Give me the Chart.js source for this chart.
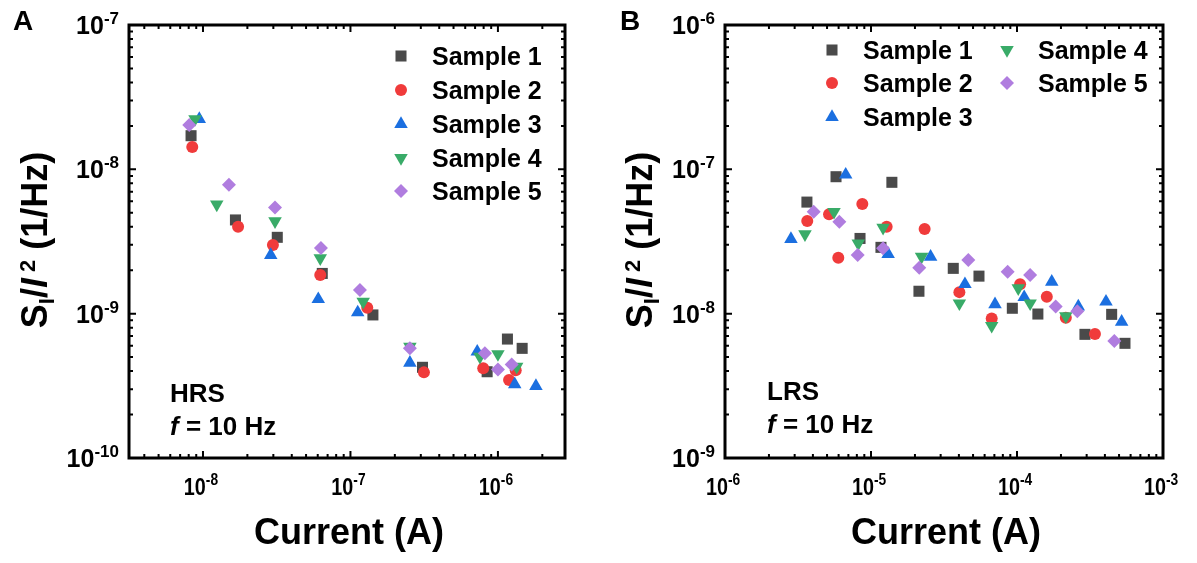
<!DOCTYPE html>
<html>
<head>
<meta charset="utf-8">
<script src="https://cdn.jsdelivr.net/npm/chart.js@4/dist/chart.umd.min.js"></script>
<style>
  html, body { margin: 0; padding: 0; background: #fff; }
  #wrap { position: relative; width: 1197px; height: 563px; overflow: hidden; }
  canvas { position: absolute; top: 0; }
  #chartA { left: 0; }
  #chartB { left: 600px; }
</style>
</head>
<body>
<div id="wrap">
  <canvas id="chartA" width="600" height="563"></canvas>
  <canvas id="chartB" width="597" height="563"></canvas>
</div>
<script>
// series names, marker styles
const sampleNames = ['Sample 1', 'Sample 2', 'Sample 3', 'Sample 4', 'Sample 5'];
const sampleColors = ['#4a4a4a', '#f03b3b', '#1b6fe0', '#39ab68', '#b07ddf'];
const sampleStyles = ['rect', 'circle', 'triangle', 'triangle', 'rectRot'];
const sampleRotation = [0, 0, 0, 180, 0];
const sampleRadius = [7.8, 6, 7.8, 7.8, 7];

// tick exponents (labels 10^n)
const xTicksA = [-8, -7, -6];
const yTicksA = [-10, -9, -8, -7];
const xTicksB = [-6, -5, -4, -3];
const yTicksB = [-9, -8, -7, -6];

// HRS: [current (A), S_I/I^2 (1/Hz)]
const hrsSample1 = [[8.3e-9, 1.71e-8], [1.66e-8, 4.46e-9], [3.19e-8, 3.38e-9], [6.44e-8, 1.90e-9], [1.42e-7, 9.8e-10],
  [3.08e-7, 4.25e-10], [8.45e-7, 3.96e-10], [1.16e-6, 6.67e-10], [1.46e-6, 5.75e-10]];
const hrsSample2 = [[8.46e-9, 1.43e-8], [1.73e-8, 4.0e-9], [2.98e-8, 2.99e-9], [6.24e-8, 1.85e-9], [1.30e-7, 1.10e-9],
  [3.15e-7, 3.92e-10], [7.95e-7, 4.18e-10], [1.19e-6, 3.47e-10], [1.32e-6, 4.06e-10]];
const hrsSample3 = [[9.44e-9, 2.23e-8], [2.88e-8, 2.55e-9], [6.05e-8, 1.26e-9], [1.12e-7, 1.02e-9], [2.53e-7, 4.57e-10],
  [7.24e-7, 5.45e-10], [1.30e-6, 3.24e-10], [1.81e-6, 3.15e-10]];
const hrsSample4 = [[8.83e-9, 2.23e-8], [1.24e-8, 5.72e-9], [3.08e-8, 4.38e-9], [6.24e-8, 2.42e-9], [1.22e-7, 1.21e-9],
  [2.53e-7, 5.9e-10], [7.55e-7, 5.03e-10], [1.0e-6, 5.25e-10], [1.34e-6, 4.29e-10]];
const hrsSample5 = [[8.07e-9, 2.03e-8], [1.50e-8, 7.82e-9], [3.08e-8, 5.45e-9], [6.31e-8, 2.85e-9], [1.16e-7, 1.46e-9],
  [2.53e-7, 5.75e-10], [8.16e-7, 5.31e-10], [1.0e-6, 4.11e-10], [1.24e-6, 4.45e-10]];

// LRS
const lrsSample1 = [[3.64e-6, 5.93e-8], [5.76e-6, 8.89e-8], [8.41e-6, 3.32e-8], [1.17e-5, 2.88e-8], [1.39e-5, 8.13e-8],
  [2.13e-5, 1.43e-8], [3.66e-5, 2.06e-8], [5.49e-5, 1.82e-8], [9.29e-5, 1.09e-8], [1.39e-4, 9.94e-9],
  [2.92e-4, 7.19e-9], [4.45e-4, 9.89e-9], [5.49e-4, 6.23e-9]];
const lrsSample2 = [[3.66e-6, 4.38e-8], [5.16e-6, 4.88e-8], [5.97e-6, 2.44e-8], [8.72e-6, 5.75e-8], [1.28e-5, 4.0e-8],
  [2.33e-5, 3.86e-8], [4.03e-5, 1.41e-8], [6.71e-5, 9.27e-9], [1.05e-4, 1.60e-8], [1.60e-4, 1.31e-8],
  [2.16e-4, 9.37e-9], [3.42e-4, 7.22e-9]];
const lrsSample3 = [[2.83e-6, 3.29e-8], [6.71e-6, 9.18e-8], [1.31e-5, 2.59e-8], [2.56e-5, 2.48e-8], [4.40e-5, 1.60e-8],
  [7.07e-5, 1.16e-8], [1.12e-4, 1.30e-8], [1.73e-4, 1.66e-8], [2.63e-4, 1.12e-8], [4.07e-4, 1.21e-8],
  [5.21e-4, 8.79e-9]];
const lrsSample4 = [[3.53e-6, 3.55e-8], [5.58e-6, 5.08e-8], [8.18e-6, 3.07e-8], [1.21e-5, 3.94e-8], [2.22e-5, 2.48e-8],
  [4.03e-5, 1.18e-8], [6.71e-5, 8.24e-9], [1.02e-4, 1.50e-8], [1.23e-4, 1.18e-8], [2.16e-4, 9.62e-9]];
const lrsSample5 = [[4.05e-6, 5.08e-8], [6.07e-6, 4.33e-8], [8.11e-6, 2.55e-8], [1.21e-5, 2.84e-8], [2.14e-5, 2.08e-8],
  [4.64e-5, 2.35e-8], [8.63e-5, 1.95e-8], [1.23e-4, 1.85e-8], [1.84e-4, 1.12e-8], [2.59e-4, 1.04e-8],
  [4.64e-4, 6.46e-9]];

const FONT = '"Liberation Sans", Arial, Helvetica, sans-serif';

function makeDatasets(series) {
    return series.map((pts, i) => ({
        label: sampleNames[i],
        data: pts.map(p => ({ x: p[0], y: p[1] })),
        pointStyle: sampleStyles[i],
        pointRotation: sampleRotation[i],
        pointRadius: sampleRadius[i],
        pointBackgroundColor: sampleColors[i],
        pointBorderColor: sampleColors[i],
        pointBorderWidth: 0,
        showLine: false,
        order: 5 - i   // later samples drawn on top
    }));
}

function font(size, style) {
    return (style || 'bold') + ' ' + size + 'px ' + FONT;
}

// "10" with a raised exponent
function drawPow(ctx, x, y, exp, baseSize, expSize, rise, align, squeeze) {
    squeeze = squeeze || 1;
    ctx.font = font(baseSize);
    const wb = ctx.measureText('10').width;
    ctx.font = font(expSize);
    const we = ctx.measureText(String(exp)).width;
    const total = (wb + we) * squeeze;
    let start = x;
    if (align === 'right') start = x - total;
    if (align === 'center') start = x - total / 2;
    ctx.save();
    ctx.translate(start, y);
    ctx.scale(squeeze, 1);
    ctx.textAlign = 'left';
    ctx.textBaseline = 'alphabetic';
    ctx.font = font(baseSize);
    ctx.fillText('10', 0, 0);
    ctx.font = font(expSize);
    ctx.fillText(String(exp), wb, -rise);
    ctx.restore();
}

function drawMarker(ctx, i, x, y) {
    ctx.fillStyle = sampleColors[i];
    ctx.strokeStyle = sampleColors[i];
    if (Chart.helpers && Chart.helpers.drawPoint) {
        Chart.helpers.drawPoint(ctx, {
            pointStyle: sampleStyles[i], rotation: sampleRotation[i],
            radius: sampleRadius[i], borderWidth: 0
        }, x, y);
    } else {
        ctx.beginPath();
        ctx.arc(x, y, sampleRadius[i], 0, Math.PI * 2);
        ctx.fill();
    }
}

const panelDecor = {
    id: 'panelDecor',
    afterDraw(chart, args, o) {
        const ctx = chart.ctx;
        const ca = chart.chartArea;
        const xs = chart.scales.x, ys = chart.scales.y;
        ctx.save();
        ctx.fillStyle = '#000';
        ctx.strokeStyle = '#000';

        // minor + major ticks, inward on all four sides
        ctx.lineWidth = 2;
        const inRange = (v, s) => v >= s.min * 0.999 && v <= s.max * 1.001;
        const eachTick = (s, cb) => {
            const k0 = Math.floor(Math.log10(s.min)), k1 = Math.ceil(Math.log10(s.max));
            for (let k = k0; k <= k1; k++) {
                for (let d = 1; d <= 9; d++) {
                    const v = d * Math.pow(10, k);
                    if (inRange(v, s)) cb(s.getPixelForValue(v), d === 1);
                }
            }
        };
        ctx.beginPath();
        eachTick(xs, (px, major) => {
            const L = major ? 7 : 4;
            ctx.moveTo(px, ca.bottom); ctx.lineTo(px, ca.bottom - L);
            ctx.moveTo(px, ca.top); ctx.lineTo(px, ca.top + L);
        });
        eachTick(ys, (py, major) => {
            const L = major ? 7 : 4;
            ctx.moveTo(ca.left, py); ctx.lineTo(ca.left + L, py);
            ctx.moveTo(ca.right, py); ctx.lineTo(ca.right - L, py);
        });
        ctx.stroke();

        // frame
        ctx.lineWidth = 3;
        ctx.strokeRect(ca.left, ca.top, ca.right - ca.left, ca.bottom - ca.top);

        // tick labels
        o.xTicks.forEach(n => {
            const px = xs.getPixelForValue(Math.pow(10, n));
            drawPow(ctx, px - 2, ca.bottom + 37, '-' + Math.abs(n), 23, 16, 10, 'center', 0.86);
        });
        o.yTicks.forEach(n => {
            const py = ys.getPixelForValue(Math.pow(10, n));
            drawPow(ctx, ca.left - 10, py + 9, '-' + Math.abs(n), 25, 17, 10, 'right', 1);
        });

        // x title
        ctx.font = font(36);
        ctx.textAlign = 'center';
        ctx.textBaseline = 'alphabetic';
        ctx.fillText('Current (A)', (ca.left + ca.right) / 2 + 2, 544);

        // y title: S_I / I^2 (1/Hz), rotated
        const parts = [
            { t: 'S', f: font(36), dy: 0 },
            { t: 'I', f: font(22), dy: 7 },
            { t: '/', f: font(36), dy: 0 },
            { t: 'I', f: font(36, 'italic bold'), dy: 0 },
            { t: ' 2', f: font(22), dy: -12 },
            { t: ' (1/Hz)', f: font(36), dy: 0 }
        ];
        let tw = 0;
        parts.forEach(p => { ctx.font = p.f; p.w = ctx.measureText(p.t).width; tw += p.w; });
        ctx.save();
        ctx.translate(o.titleX, 240);
        ctx.rotate(-Math.PI / 2);
        ctx.textAlign = 'left';
        let cx = -tw / 2;
        parts.forEach(p => { ctx.font = p.f; ctx.fillText(p.t, cx, p.dy); cx += p.w; });
        ctx.restore();

        // panel letter
        ctx.font = font(28);
        ctx.textAlign = 'left';
        ctx.fillText(o.letter, o.letterX, 30);

        // state annotation
        ctx.font = font(26);
        ctx.fillText(o.state, o.noteX, o.noteY);
        ctx.font = font(26, 'italic bold');
        ctx.fillText('f', o.noteX, o.noteY + 33);
        const fw = ctx.measureText('f').width;
        ctx.font = font(26);
        ctx.fillText(' = 10 Hz', o.noteX + fw, o.noteY + 33);

        // legend
        o.legend.forEach((it, i) => {
            drawMarker(ctx, i, it[0], it[2]);
            ctx.fillStyle = '#000';
            ctx.font = font(25);
            ctx.fillText(sampleNames[i], it[1], it[2] + 9);
        });
        ctx.restore();
    }
};

function makeChart(id, series, xMin, xMax, yMin, yMax, pad, deco) {
    return new Chart(document.getElementById(id), {
        type: 'scatter',
        data: { datasets: makeDatasets(series) },
        options: {
            responsive: false,
            animation: false,
            devicePixelRatio: 1,
            layout: { padding: pad },
            scales: {
                x: { type: 'logarithmic', display: false, min: xMin, max: xMax },
                y: { type: 'logarithmic', display: false, min: yMin, max: yMax }
            },
            plugins: {
                legend: { display: false },
                tooltip: { enabled: false },
                panelDecor: deco
            }
        },
        plugins: [panelDecor]
    });
}

makeChart('chartA', [hrsSample1, hrsSample2, hrsSample3, hrsSample4, hrsSample5],
    3.15e-9, 2.85e-6, 1e-10, 1e-7,
    { left: 129, right: 35, top: 25, bottom: 105 },
    {
        xTicks: xTicksA, yTicks: yTicksA, titleX: 47, letter: 'A', letterX: 13,
        state: 'HRS', noteX: 170, noteY: 402,
        legend: [[401, 432, 56], [401, 432, 90], [401, 432, 124], [401, 432, 158], [401, 432, 191]]
    });

makeChart('chartB', [lrsSample1, lrsSample2, lrsSample3, lrsSample4, lrsSample5],
    1e-6, 1e-3, 1e-9, 1e-6,
    { left: 125, right: 34, top: 25, bottom: 105 },
    {
        xTicks: xTicksB, yTicks: yTicksB, titleX: 52, letter: 'B', letterX: 20,
        state: 'LRS', noteX: 167, noteY: 400,
        legend: [[232, 263, 50], [232, 263, 83], [232, 263, 117], [407, 438, 50], [407, 438, 83]]
    });
</script>
</body>
</html>
